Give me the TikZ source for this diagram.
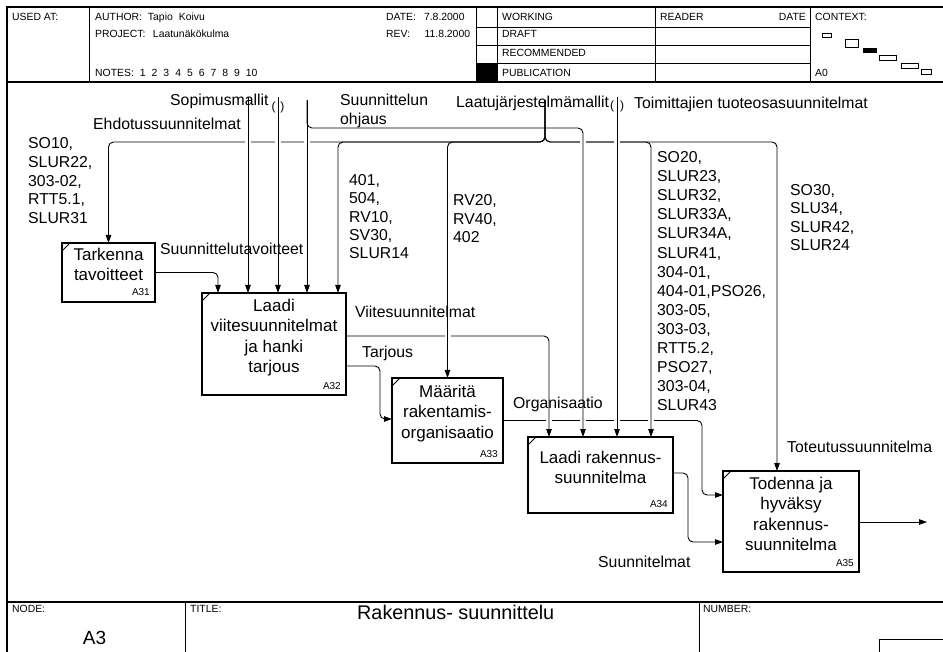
\documentclass[tikz,border=0pt]{standalone}
\usepackage{fontspec}
\setmainfont{Liberation Sans}
\usetikzlibrary{arrows.meta,calc}
\begin{document}
\begin{tikzpicture}[x=1pt,y=-1pt,
 lbl/.style={inner sep=0pt, anchor=north west, align=left, font=\fontsize{15.8}{18.8}\selectfont},
 lbs/.style={inner sep=0pt, anchor=base west, font=\fontsize{15.8}{18.8}\selectfont},
 boxtxt/.style={inner sep=0pt, anchor=north, align=center, font=\fontsize{17}{20.5}\selectfont},
 hdr/.style={inner sep=0pt, anchor=base west, font=\fontsize{10.4}{12}\selectfont},
 actbox/.style={inner sep=0pt, outer sep=0pt},
 boxnum/.style={inner sep=0pt, anchor=base east, font=\fontsize{10}{12}\selectfont},
 tunnel/.style={inner sep=0pt, font=\fontsize{12}{12}\selectfont},
 arr/.style={line width=0.9pt, rounded corners=5pt, -{Triangle[length=8pt,width=5.5pt]}},
 frameln/.style={line width=1.3pt},
 thinln/.style={line width=0.8pt},
 xgap/.style={fill=white, draw=none},
]
\useasboundingbox (0,0) rectangle (943,652);

% ---------- frame ----------
\draw[frameln] (7,652) -- (7,7) -- (943,7);
\draw[frameln] (7,82) -- (943,82);
\draw[frameln] (7,602) -- (943,602);
\draw[thinln] (89,7) -- (89,82);
\draw[thinln] (476,7) -- (476,82);
\draw[thinln] (497,7) -- (497,82);
\draw[thinln] (655,7) -- (655,82);
\draw[thinln] (810,7) -- (810,82);
\draw[thinln] (476,27) -- (810,27);
\draw[thinln] (476,45) -- (810,45);
\draw[thinln] (476,63) -- (810,63);
\fill (476,63) rectangle (497,82);
\draw[thinln] (185,602) -- (185,652);
\draw[thinln] (699,602) -- (699,652);
\draw[thinln] (943,639) -- (879,639) -- (879,652);
% context boxes
\draw[thinln] (822.3,33.3) rectangle (831.7,37.5);
\draw[thinln] (845,39.5) rectangle (858,47);
\fill (862.7,48.3) rectangle (876.7,53.3);
\draw[thinln] (879.3,55.7) rectangle (896.7,60.7);
\draw[thinln] (901.7,63.3) rectangle (918.3,68.3);
\draw[thinln] (921.7,69) rectangle (931,74);

% header texts
\node[hdr] (usedat) at (12,20.4) {USED AT:};
\node[hdr] (author) at (95,20.4) {AUTHOR:\hspace{6pt}Tapio\hspace{6pt}Koivu};
\node[hdr] (project) at (95,38) {PROJECT:\hspace{7.5pt}Laatunäkökulma};
\node[hdr] (notes) at (95,76.4) {NOTES:\hspace{6pt}1\hspace{6pt}2\hspace{6pt}3\hspace{6pt}4\hspace{6pt}5\hspace{6pt}6\hspace{6pt}7\hspace{6pt}8\hspace{6pt}9\hspace{6pt}10};
\node[hdr] (date) at (386,20.4) {DATE:\hspace{8pt}7.8.2000};
\node[hdr] (rev) at (386,38) {REV:\hspace{14.5pt}11.8.2000};
\node[hdr] (working) at (502,20.4) {WORKING};
\node[hdr] (draft) at (502,38) {DRAFT};
\node[hdr] (recom) at (502,57) {RECOMMENDED};
\node[hdr] (publ) at (502,76.4) {PUBLICATION};
\node[hdr] (reader) at (660,20.4) {READER};
\node[hdr, anchor=base east] (rdate) at (806,20.4) {DATE};
\node[hdr] (context) at (815,20.4) {CONTEXT:};
\node[hdr] (a0) at (815,76.4) {A0};
% footer texts
\node[hdr] (nodelbl) at (12,612.7) {NODE:};
\node[hdr] (titlelbl) at (190,612.7) {TITLE:};
\node[hdr] (numberlbl) at (703,612.7) {NUMBER:};
\node[inner sep=0pt, anchor=base, font=\fontsize{19}{20}\selectfont] (nodeA3) at (94.5,644.8) {A3};
\node[inner sep=0pt, anchor=base west, font=\fontsize{19.8}{22}\selectfont] (title) at (357,619.2) {Rakennus- suunnittelu};

% ---------- activity boxes (geometry) ----------
\node[actbox, minimum width=93pt, minimum height=59pt] (a31) at (108.5,272.5) {};
\node[actbox, minimum width=144pt, minimum height=102pt] (a32) at (274,344) {};
\node[actbox, minimum width=111pt, minimum height=85pt] (a33) at (447.5,420.5) {};
\node[actbox, minimum width=145pt, minimum height=76pt] (a34) at (600.5,475) {};
\node[actbox, minimum width=136pt, minimum height=101pt] (a35) at (791,521.5) {};

% entry points
\coordinate (a32i1) at ($(a32.north west)+(16,0)$);
\coordinate (a32i2) at ($(a32.north west)+(46,0)$);
\coordinate (a32i3) at ($(a32.north west)+(76,0)$);
\coordinate (a32i4) at ($(a32.north west)+(105,0)$);
\coordinate (a32i5) at ($(a32.north west)+(136,0)$);
\coordinate (a34i1) at ($(a34.north west)+(21,0)$);
\coordinate (a34i2) at ($(a34.north west)+(55,0)$);
\coordinate (a34i3) at ($(a34.north west)+(89,0)$);
\coordinate (a34i4) at ($(a34.north west)+(123,0)$);
\coordinate (a35i1) at ($(a35.north west)+(54,0)$);
% sources
\coordinate (srcSopA) at (248,97);
\coordinate (srcSopB) at (278,97);
\coordinate (srcOhj) at (307,100);
\coordinate (srcLaat) at (545,100);
\coordinate (srcToim) at (617,97);
% waypoints
\coordinate (busY) at (0,142);
\coordinate (ohjY) at (0,128);
\coordinate (kTav) at (218,272.5);
\coordinate (yViite) at (0,336);
\coordinate (yTarj) at (0,366);
\coordinate (kTarj) at (380,419);
\coordinate (kOrg) at (702,495);
\coordinate (ySuun) at (0,473);
\coordinate (kSuun) at (688,542);
\coordinate (yOut) at (0,522);
\coordinate (outEnd) at (927,522);

% ---------- connectors ----------
% Organisaatio
\draw[arr] (a33.east) -| (kOrg) -- (a35.west |- kOrg);
\foreach \x in {549,583,617,651} \fill[xgap] (\x-3,417.5) rectangle (\x+3,423.5);
% Viitesuunnitelmat
\draw[arr] (a32.east |- yViite) -| (a34i1);
\fill[xgap] (444.5,333) rectangle (450.5,339);
% Laatujarjestelmamallit bus
\foreach \t in {a31.north, a32i5, a33.north, a34i4, a35i1}
  \draw[arr] (srcLaat) -- (srcLaat |- busY) -| (\t);
\foreach \x in {248,278,307,583,617} \fill[xgap] (\x-3,139) rectangle (\x+3,145);
% controls from the top
\draw[arr] (srcSopA) -- (a32i2);
\draw[arr] (srcSopB) -- (a32i3);
\draw[arr] (srcOhj) -- (srcOhj |- ohjY) -| (a34i2);
\draw[arr] (srcOhj) -- (a32i4);
\draw[arr] (srcToim) -- (a34i3);
% A31 -> A32
\draw[arr] (a31.east) -- (kTav) -- (a32i1);
% Tarjous
\draw[arr] (a32.east |- yTarj) -| (kTarj) -- (a33.west |- kTarj);
% Suunnitelmat
\draw[arr] (a34.east |- ySuun) -| (kSuun) -- (a35.west |- kSuun);
% output
\draw[arr] (a35.east |- yOut) -- (outEnd);

% tunnels
\node[tunnel] (tun1) at (278,107) {(\hspace{5pt})};
\node[tunnel] (tun2) at (617,106) {(\hspace{6pt})};

% ---------- boxes ----------
\foreach \b in {a31,a32,a33,a34,a35} {
  \draw[line width=1.8pt] (\b.north west) rectangle (\b.south east);
  \draw[line width=1pt] ($(\b.north west)+(0,8)$) -- ($(\b.north west)+(8,0)$);
}
\node[boxtxt] (a31t) at (108.5,247.9) {Tarkenna\\tavoitteet};
\node[boxtxt] (a32t) at (274,298.9) {Laadi\\viitesuunnitelmat\\ja hanki\\tarjous};
\node[boxtxt] (a33t) at (447.5,384.9) {Määritä\\rakentamis-\\organisaatio};
\node[boxtxt] (a34t) at (600.5,450.9) {Laadi rakennus-\\suunnitelma};
\node[boxtxt] (a35t) at (791,476.9) {Todenna ja\\hyväksy\\rakennus-\\suunnitelma};
\node[boxnum] (a31n) at ($(a31.south east)+(-5,-6)$) {A31};
\node[boxnum] (a32n) at ($(a32.south east)+(-5,-6)$) {A32};
\node[boxnum] (a33n) at ($(a33.south east)+(-5,-6)$) {A33};
\node[boxnum] (a34n) at ($(a34.south east)+(-5,-6)$) {A34};
\node[boxnum] (a35n) at ($(a35.south east)+(-5,-6)$) {A35};

% ---------- arrow labels ----------
\node[lbs] (lSop) at (170,105.7) {Sopimusmallit};
\node[lbl, font=\fontsize{15.8}{18.3}\selectfont] (lOhj) at (340,94.3) {Suunnittelun\\ohjaus};
\node[lbs] (lLaat) at (456,107.5) {Laatujärjestelmämallit};
\node[lbs] (lToim) at (634,108.5) {Toimittajien tuoteosasuunnitelmat};
\node[lbs] (lEhd) at (93,129.7) {Ehdotussuunnitelmat};
\node[lbl, font=\fontsize{15.8}{18.75}\selectfont] (lSO10) at (28,137.3) {SO10,\\SLUR22,\\303-02,\\RTT5.1,\\SLUR31};
\node[lbs] (lTav) at (160,254.7) {Suunnittelutavoitteet};
\node[lbl, font=\fontsize{15.8}{18.3}\selectfont] (l401) at (349,174.3) {401,\\504,\\RV10,\\SV30,\\SLUR14};
\node[lbl, font=\fontsize{15.8}{18.5}\selectfont] (lRV) at (453,194.3) {RV20,\\RV40,\\402};
\node[lbl, font=\fontsize{15.8}{19.1}\selectfont] (lSO20) at (657,151.3) {SO20,\\SLUR23,\\SLUR32,\\SLUR33A,\\SLUR34A,\\SLUR41,\\304-01,\\404-01,PSO26,\\303-05,\\303-03,\\RTT5.2,\\PSO27,\\303-04,\\SLUR43};
\node[lbl, font=\fontsize{15.8}{18.4}\selectfont] (lSO30) at (790,184.3) {SO30,\\SLU34,\\SLUR42,\\SLUR24};
\node[lbs] (lViite) at (355,317.7) {Viitesuunnitelmat};
\node[lbs] (lTarj) at (362,357.7) {Tarjous};
\node[lbs] (lOrg) at (513,408.7) {Organisaatio};
\node[lbs] (lTot) at (787,452.7) {Toteutussuunnitelma};
\node[lbs] (lSuun) at (598,567.7) {Suunnitelmat};
\end{tikzpicture}
\end{document}
